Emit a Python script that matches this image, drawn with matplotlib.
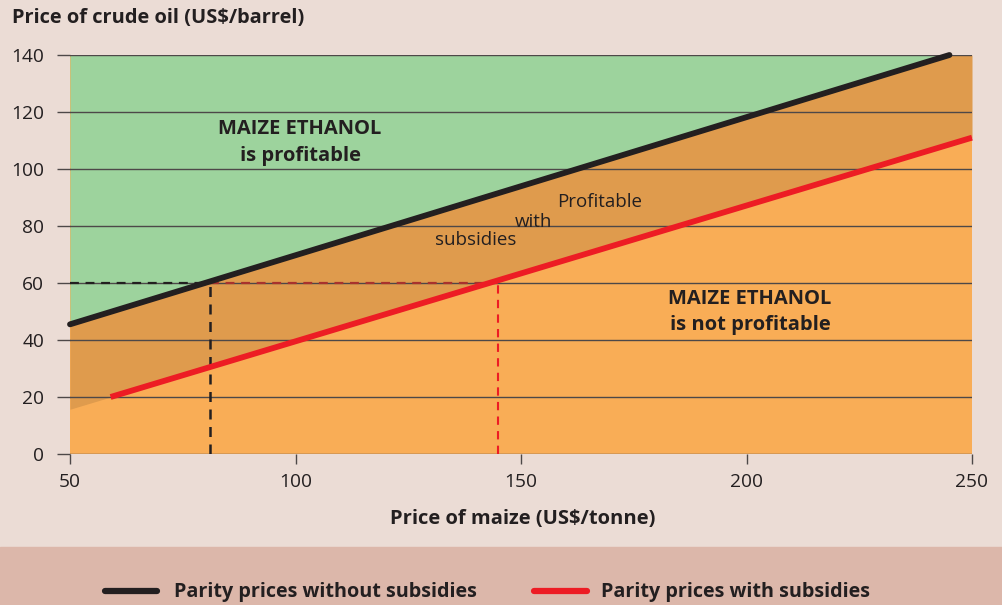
import numpy as np
import matplotlib.pyplot as plt
from matplotlib.patches import Rectangle

plt.rcParams['font.family'] = ['Open Sans', 'DejaVu Sans']

# data
maize_ticks = [50, 100, 150, 200, 250]
oil_ticks = [0, 20, 40, 60, 80, 100, 120, 140]
no_sub_maize = [50, 245]
no_sub_oil = [45.5, 140]
sub_maize = [59, 250]
sub_oil = [20, 111]
parity_oil = 60
parity_maize_no_sub = 81
parity_maize_sub = 145

# colours
bg = '#ebdcd5'
band = '#dcb7aa'
green = '#9dd39d'
dark_orange = '#df9b4d'
light_orange = '#f9ad56'
black = '#231f20'
red = '#ed1c24'
grid_c = '#4d4848'

fig = plt.figure(figsize=(10.03, 6.05), dpi=100, facecolor=bg)
fig.patches.append(Rectangle((0, 0), 1, 58 / 605, transform=fig.transFigure,
                             color=band, zorder=0))
ax = fig.add_axes([70 / 1003, 151 / 605, 902 / 1003, 399 / 605])
ax.set_facecolor(light_orange)

# extend both parity lines across the whole x range for the shaded areas
x = np.linspace(50, 250, 401)
k1, b1 = np.polyfit(no_sub_maize, no_sub_oil, 1)
k2, b2 = np.polyfit(sub_maize, sub_oil, 1)
upper = np.minimum(k1 * x + b1, 140)
lower = k2 * x + b2
ax.fill_between(x, upper, 140, color=green, lw=0, zorder=1)
ax.fill_between(x, lower, upper, color=dark_orange, lw=0, zorder=1)

ax.set_xlim(50, 250)
ax.set_ylim(0, 140)
ax.set_xticks(maize_ticks)
ax.set_yticks(oil_ticks)
ax.yaxis.grid(True, color=grid_c, lw=1.0, zorder=2)
ax.set_axisbelow(False)
for s in ['top', 'right', 'left', 'bottom']:
    ax.spines[s].set_visible(False)
ax.tick_params(axis='y', length=9.5, width=1.0, color=grid_c, pad=9,
               labelsize=13.8, labelcolor=black)
ax.tick_params(axis='x', length=7, width=1.0, color=grid_c, pad=7,
               labelsize=13.8, labelcolor=black)

# dashed guide lines
ax.plot([50, parity_maize_no_sub], [parity_oil, parity_oil], color=black,
        lw=1.6, ls=(0, (4, 3)), zorder=3)
ax.plot([parity_maize_no_sub, parity_maize_sub], [parity_oil, parity_oil],
        color='#a8322d', lw=1.6, ls=(0, (4, 3)), zorder=3)
ax.plot([parity_maize_no_sub, parity_maize_no_sub], [0, parity_oil], color=black,
        lw=1.8, ls=(0, (4, 3)), zorder=3)
ax.plot([parity_maize_sub, parity_maize_sub], [0, parity_oil], color=red,
        lw=1.5, ls=(0, (4, 3)), zorder=3)

# parity lines
ax.plot(no_sub_maize, no_sub_oil, color=black, lw=4.2, solid_capstyle='round',
        zorder=4, clip_on=False)
ax.plot(sub_maize, sub_oil, color=red, lw=4.2, solid_capstyle='butt', zorder=4,
        clip_on=False)

# annotations
ax.text(101, 109.3, 'MAIZE ETHANOL\nis profitable', ha='center', va='center',
        fontsize=14.5, fontweight='bold', color=black, linespacing=1.45)
ax.text(200.8, 49.8, 'MAIZE ETHANOL\nis not profitable', ha='center', va='center',
        fontsize=14.5, fontweight='bold', color=black, linespacing=1.45)
ax.text(167.5, 88.5, 'Profitable', ha='center', va='center', fontsize=13.5,
        color=black)
ax.text(152.7, 81.5, 'with', ha='center', va='center', fontsize=13.5, color=black)
ax.text(140, 75, 'subsidies', ha='center', va='center', fontsize=13.5, color=black)

fig.text(12 / 1003, 1 - 18 / 605, 'Price of crude oil (US$/barrel)', ha='left',
         va='center', fontsize=14.4, fontweight='bold', color=black)
fig.text(523 / 1003, 1 - 519 / 605, 'Price of maize (US$/tonne)', ha='center',
         va='center', fontsize=14.5, fontweight='bold', color=black)

# legend drawn in figure coordinates
ly = 1 - 591 / 605
fig.add_artist(plt.Line2D([105 / 1003, 157 / 1003], [ly, ly], color=black, lw=4.5,
                          solid_capstyle='round', transform=fig.transFigure))
fig.text(174 / 1003, ly - 1.5 / 605, 'Parity prices without subsidies', ha='left',
         va='center', fontsize=14.2, fontweight='bold', color=black)
fig.add_artist(plt.Line2D([534 / 1003, 587 / 1003], [ly, ly], color=red, lw=4.5,
                          solid_capstyle='round', transform=fig.transFigure))
fig.text(601 / 1003, ly - 1.5 / 605, 'Parity prices with subsidies', ha='left',
         va='center', fontsize=14.2, fontweight='bold', color=black)

fig.savefig('out.png', dpi=100, facecolor=bg)
